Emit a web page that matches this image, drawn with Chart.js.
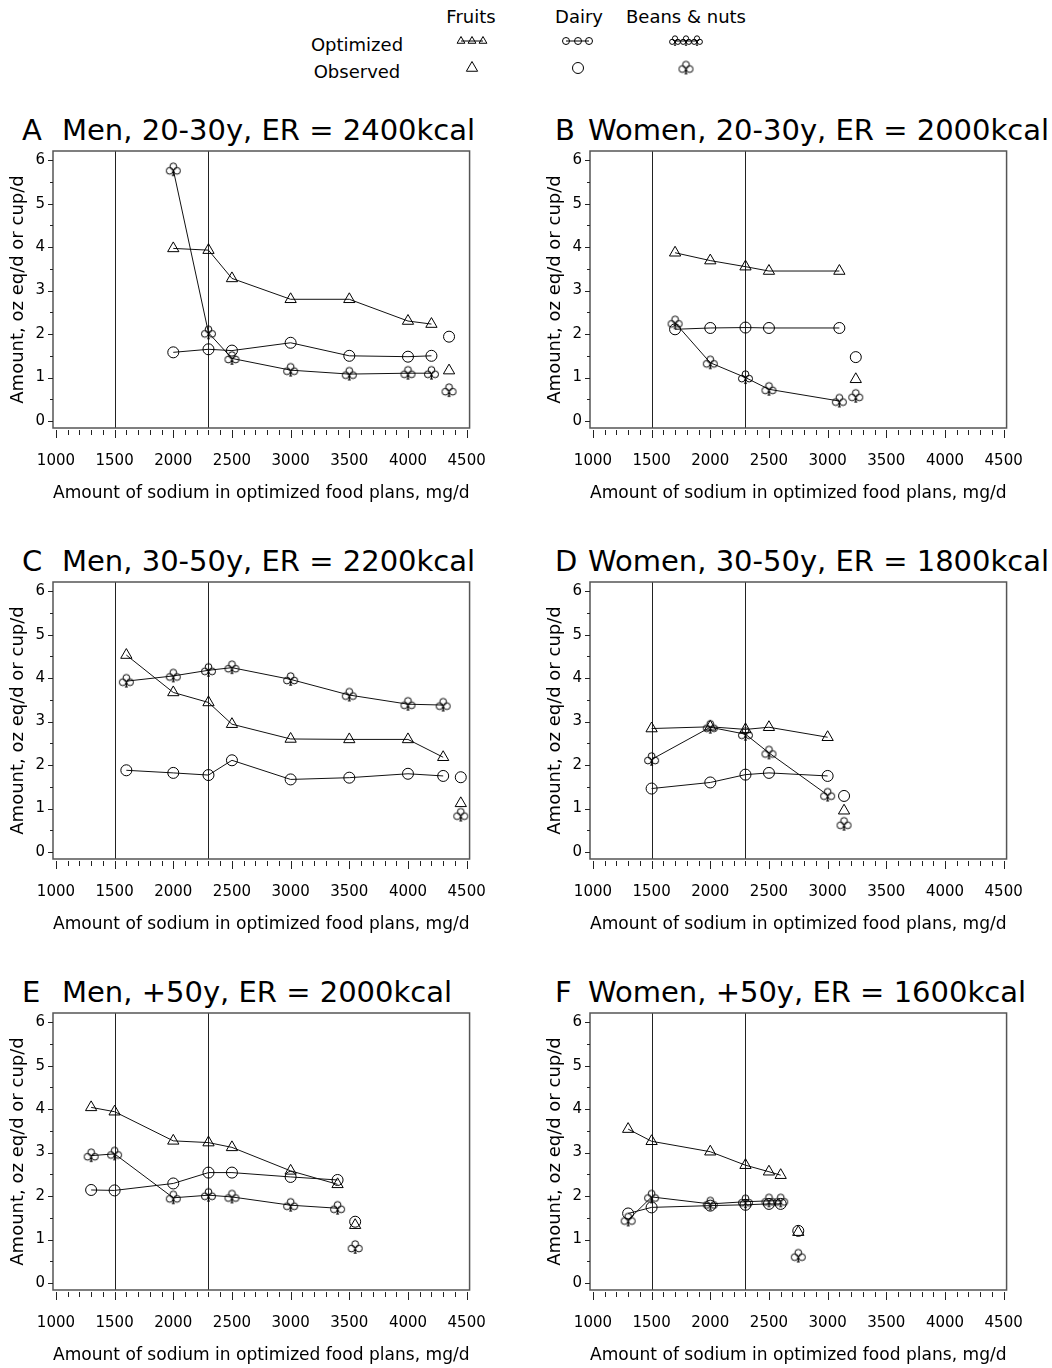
<!DOCTYPE html>
<html lang="en">
<head>
<meta charset="UTF-8">
<title>Food group amounts by sodium level in optimized food plans</title>
<script src="https://cdn.jsdelivr.net/npm/chart.js"></script>
<style>
  body { margin: 0; width: 1052px; height: 1368px; overflow: hidden; background: #fff;
         font-family: "DejaVu Sans", sans-serif; color: #000; position: relative; }
  .txt { position: absolute; white-space: pre; font-size: 18px; line-height: 22px; }
  .title { position: absolute; white-space: pre; font-size: 29px; line-height: 34px; }
  canvas { position: absolute; }
</style>
</head>
<body>
<!-- legend text -->
<div class="txt" style="left:430px; top:6px; width:82px; text-align:center;">Fruits</div>
<div class="txt" style="left:539px; top:6px; width:80px; text-align:center;">Dairy</div>
<div class="txt" style="left:616px; top:6px; width:140px; text-align:center;">Beans &amp; nuts</div>
<div class="txt" style="left:302px; top:34px; width:110px; text-align:center;">Optimized</div>
<div class="txt" style="left:302px; top:61px; width:110px; text-align:center;">Observed</div>
<canvas id="legendMarks" width="300" height="60" style="left:420px; top:26px;"></canvas>

<script>
// axis ticks and reference lines
const xTicks = [1000, 1500, 2000, 2500, 3000, 3500, 4000, 4500];
const yTicks = [0, 1, 2, 3, 4, 5, 6];
const refLines = [1500, 2300];

const panelLetters = ['A', 'B', 'C', 'D', 'E', 'F'];
const panelTitles = [
    'Men, 20-30y, ER = 2400kcal',
    'Women, 20-30y, ER = 2000kcal',
    'Men, 30-50y, ER = 2200kcal',
    'Women, 30-50y, ER = 1800kcal',
    'Men, +50y, ER = 2000kcal',
    'Women, +50y, ER = 1600kcal'
];
const xTitle = 'Amount of sodium in optimized food plans, mg/d';
const yTitle = 'Amount, oz eq/d or cup/d';

// optimized food plans (sodium mg/d -> amount)
const sodiumA = [2000, 2300, 2500, 3000, 3500, 4000, 4200];
const fruitsA = [3.97, 3.93, 3.28, 2.80, 2.80, 2.30, 2.23];
const dairyA  = [1.58, 1.65, 1.62, 1.80, 1.50, 1.48, 1.50];
const beansA  = [5.78, 2.03, 1.44, 1.17, 1.08, 1.10, 1.10];

const sodiumB = [1700, 2000, 2300, 2500, 3100];
const fruitsB = [3.87, 3.69, 3.55, 3.45, 3.45];
const dairyB  = [2.11, 2.14, 2.15, 2.14, 2.14];
const beansB  = [2.26, 1.34, 1.00, 0.73, 0.46];

const sodiumC = [1600, 2000, 2300, 2500, 3000, 3500, 4000, 4300];
const fruitsC = [4.53, 3.67, 3.44, 2.94, 2.60, 2.59, 2.59, 2.18];
const dairyC  = [1.88, 1.82, 1.77, 2.11, 1.67, 1.71, 1.80, 1.75];
const beansC  = [3.93, 4.05, 4.18, 4.24, 3.97, 3.61, 3.40, 3.38];

const sodiumD = [1500, 2000, 2300, 2500, 3000];
const fruitsD = [2.84, 2.88, 2.82, 2.87, 2.64];
const dairyD  = [1.46, 1.60, 1.78, 1.82, 1.75];
const beansD  = [2.13, 2.87, 2.71, 2.28, 1.31];

const sodiumE = [1300, 1500, 2000, 2300, 2500, 3000, 3400];
const fruitsE = [4.04, 3.94, 3.27, 3.23, 3.12, 2.58, 2.27];
const dairyE  = [2.14, 2.13, 2.29, 2.54, 2.54, 2.44, 2.37];
const beansE  = [2.93, 2.97, 1.96, 2.02, 1.98, 1.79, 1.72];

const sodiumF = [1300, 1500, 2000, 2300, 2500, 2600];
const fruitsF = [3.54, 3.26, 3.02, 2.71, 2.56, 2.48];
const dairyF  = [1.60, 1.74, 1.78, 1.80, 1.82, 1.82];
const beansF  = [1.45, 1.98, 1.82, 1.87, 1.89, 1.89];

// observed diets, one value per panel A-F
const obsSodium = [4350, 3240, 4450, 3140, 3550, 2750];
const obsFruits = [1.16, 0.96, 1.12, 0.95, 1.33, 1.17];
const obsDairy  = [1.94, 1.47, 1.72, 1.29, 1.41, 1.20];
const obsBeans  = [0.70, 0.57, 0.85, 0.64, 0.82, 0.62];

Chart.defaults.font.family = '"DejaVu Sans", sans-serif';
Chart.defaults.color = '#000';

// club marker drawn on a small canvas, used as a pointStyle
function makeClub(size) {
    const c = document.createElement('canvas');
    c.width = c.height = Math.ceil(size + 4);
    const g = c.getContext('2d');
    const cx = c.width / 2, cy = c.height / 2, u = size / 12;
    g.strokeStyle = '#000';
    g.fillStyle = '#000';
    g.lineWidth = 1;
    const r = 3.1 * u;
    [[0, -3.1], [-3.4, 1.0], [3.4, 1.0]].forEach(function (p) {
        g.beginPath();
        g.arc(cx + p[0] * u, cy + p[1] * u, r, 0, Math.PI * 2);
        g.stroke();
    });
    // stem with a small base
    g.beginPath();
    g.moveTo(cx, cy);
    g.lineTo(cx, cy + 4 * u);
    g.stroke();
    g.beginPath();
    g.moveTo(cx - 1.6 * u, cy + 5.8 * u);
    g.lineTo(cx + 1.6 * u, cy + 5.8 * u);
    g.lineTo(cx, cy + 3.2 * u);
    g.closePath();
    g.fill();
    return c;
}
const clubMark = makeClub(13);

// frame, reference lines and tick marks
const framePlugin = {
    id: 'frame',
    beforeDatasetsDraw(chart) {
        const {ctx, chartArea: a, scales: {x}} = chart;
        ctx.save();
        ctx.strokeStyle = '#222';
        ctx.lineWidth = 1;
        refLines.forEach(function (v) {
            const px = Math.round(x.getPixelForValue(v)) + 0.5;
            ctx.beginPath();
            ctx.moveTo(px, a.top);
            ctx.lineTo(px, a.bottom);
            ctx.stroke();
        });
        ctx.restore();
    },
    afterDraw(chart) {
        const {ctx, chartArea: a, scales: {x, y}} = chart;
        ctx.save();
        ctx.strokeStyle = '#555';
        ctx.lineWidth = 1.5;
        ctx.strokeRect(a.left, a.top, a.right - a.left, a.bottom - a.top);
        ctx.strokeStyle = '#222';
        ctx.lineWidth = 1;
        ctx.beginPath();
        for (let v = xTicks[0]; v <= xTicks[xTicks.length - 1]; v += 100) {
            const px = Math.round(x.getPixelForValue(v)) + 0.5;
            const len = v % 500 === 0 ? 8 : 5;
            ctx.moveTo(px, a.bottom + 2);
            ctx.lineTo(px, a.bottom + 2 + len);
        }
        for (let v = yTicks[0]; v <= yTicks[yTicks.length - 1]; v += 0.5) {
            const py = Math.round(y.getPixelForValue(v)) + 0.5;
            const len = v % 1 === 0 ? 5 : 3;
            ctx.moveTo(a.left, py);
            ctx.lineTo(a.left - len, py);
        }
        ctx.stroke();
        ctx.restore();
    }
};

function points(xs, ys) {
    return xs.map(function (v, i) { return {x: v, y: ys[i]}; });
}

function lineSet(xs, ys, style, radius) {
    return {
        data: points(xs, ys),
        showLine: true,
        borderColor: '#111',
        borderWidth: 1,
        pointStyle: style,
        pointRadius: radius,
        pointBorderColor: '#000',
        pointBorderWidth: 1,
        pointBackgroundColor: 'rgba(0,0,0,0)'
    };
}

function obsSet(i, ys, style, radius) {
    const s = lineSet([obsSodium[i]], [ys[i]], style, radius);
    s.showLine = false;
    return s;
}

const colLeft = [0, 537];
const rowTop = [95, 526, 957];
const letterLeft = [22, 555];
const titleLeft = [62, 588];

function addText(cls, left, top, text) {
    const d = document.createElement('div');
    d.className = cls;
    d.style.left = left + 'px';
    d.style.top = top + 'px';
    d.textContent = text;
    document.body.appendChild(d);
}

function buildPanel(i, sodium, fruits, dairy, beans) {
    const col = i % 2, row = Math.floor(i / 2);
    const left = colLeft[col], top = rowTop[row];

    addText('title', letterLeft[col], top + 18, panelLetters[i]);
    addText('title', titleLeft[col], top + 18, panelTitles[i]);

    const cv = document.createElement('canvas');
    cv.width = 510;
    cv.height = 412;
    cv.style.left = left + 'px';
    cv.style.top = top + 'px';
    document.body.appendChild(cv);

    new Chart(cv.getContext('2d'), {
        type: 'scatter',
        data: {
            datasets: [
                lineSet(sodium, fruits, 'triangle', 6.5),
                lineSet(sodium, dairy, 'circle', 5.5),
                lineSet(sodium, beans, clubMark, 6),
                obsSet(i, obsFruits, 'triangle', 6.5),
                obsSet(i, obsDairy, 'circle', 5.5),
                obsSet(i, obsBeans, clubMark, 6)
            ]
        },
        options: {
            responsive: false,
            animation: false,
            layout: { padding: { top: 56, right: 38, bottom: 0, left: 0 } },
            plugins: { legend: { display: false }, tooltip: { enabled: false } },
            scales: {
                x: {
                    type: 'linear',
                    min: 975,
                    max: 4525,
                    afterBuildTicks: function (s) { s.ticks = xTicks.map(function (v) { return {value: v}; }); },
                    afterFit: function (s) { s.height = 79; },
                    grid: { display: false, drawTicks: false },
                    border: { display: false },
                    ticks: { padding: 24, font: { size: 15 }, color: '#000', maxRotation: 0,
                             callback: function (v) { return String(v); } },
                    title: { display: true, text: xTitle, font: { size: 18 }, color: '#000', padding: { top: 0, bottom: 3 } }
                },
                y: {
                    type: 'linear',
                    min: -0.16,
                    max: 6.21,
                    afterBuildTicks: function (s) { s.ticks = yTicks.map(function (v) { return {value: v}; }); },
                    afterFit: function (s) { s.width = 53; },
                    grid: { display: false, drawTicks: false },
                    border: { display: false },
                    ticks: { padding: 8, font: { size: 15 }, color: '#000',
                             callback: function (v) { return String(v); } },
                    title: { display: true, text: yTitle, font: { size: 18 }, color: '#000', padding: { top: 8, bottom: 0 } }
                }
            }
        },
        plugins: [framePlugin]
    });
}

buildPanel(0, sodiumA, fruitsA, dairyA, beansA);
buildPanel(1, sodiumB, fruitsB, dairyB, beansB);
buildPanel(2, sodiumC, fruitsC, dairyC, beansC);
buildPanel(3, sodiumD, fruitsD, dairyD, beansD);
buildPanel(4, sodiumE, fruitsE, dairyE, beansE);
buildPanel(5, sodiumF, fruitsF, dairyF, beansF);

// legend marks (canvas origin at page 420,26)
(function () {
    const g = document.getElementById('legendMarks').getContext('2d');
    g.strokeStyle = '#000';
    g.lineWidth = 1;
    function tri(x, y, r) {
        g.beginPath();
        g.moveTo(x, y - r);
        g.lineTo(x + r * 0.866, y + r * 0.5);
        g.lineTo(x - r * 0.866, y + r * 0.5);
        g.closePath();
        g.stroke();
    }
    function circ(x, y, r) {
        g.beginPath();
        g.arc(x, y, r, 0, Math.PI * 2);
        g.stroke();
    }
    function link(x1, x2, y) {
        g.beginPath();
        g.moveTo(x1, y);
        g.lineTo(x2, y);
        g.stroke();
    }
    const smallClub = makeClub(10);
    const yo = 15, yb = 42;
    // optimized
    link(41, 63, yo);
    [41, 52, 63].forEach(function (x) { tri(x, yo, 4.5); });
    link(146, 169, yo);
    [146, 158, 169].forEach(function (x) { circ(x, yo, 3.5); });
    link(255, 277, yo);
    [255, 266, 277].forEach(function (x) { g.drawImage(smallClub, x - smallClub.width / 2, yo - smallClub.height / 2); });
    // observed
    tri(52, yb, 6.5);
    circ(158, yb, 5.5);
    g.drawImage(clubMark, 266 - clubMark.width / 2, yb - clubMark.height / 2);
})();
</script>
</body>
</html>
